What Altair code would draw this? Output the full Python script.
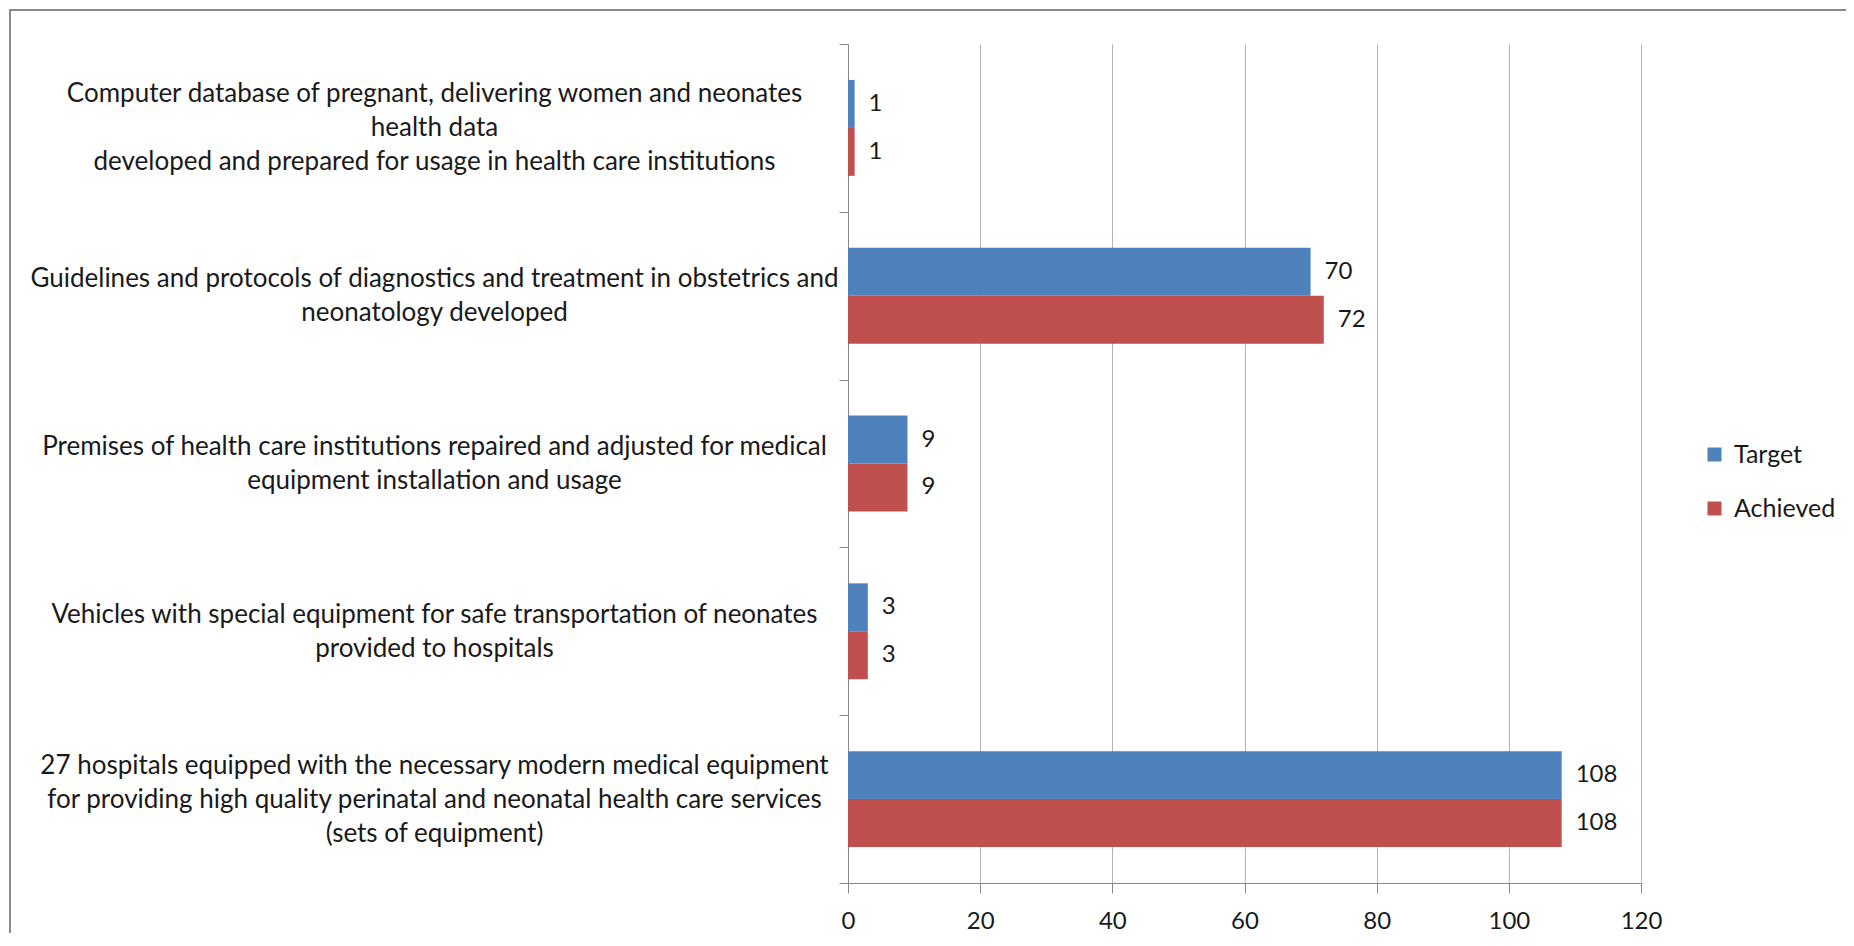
import altair as alt
import pandas as pd

categories = [
    "Computer database of pregnant, delivering women and neonates\nhealth data\ndeveloped and prepared for usage in health care institutions",
    "Guidelines and protocols of diagnostics and treatment in obstetrics and\nneonatology developed",
    "Premises of health care institutions repaired and adjusted for medical\nequipment installation and usage",
    "Vehicles with special equipment for safe transportation of neonates\nprovided to hospitals",
    "27 hospitals equipped with the necessary modern medical equipment\nfor providing high quality perinatal and neonatal health care services\n(sets of equipment)",
]
series = ["Target", "Achieved"]
target = [1, 70, 9, 3, 108]
achieved = [1, 72, 9, 3, 108]
x_ticks = [0, 20, 40, 60, 80, 100, 120]
colors = ["#4F81BD", "#C0504D"]

rows = []
for c, t, a in zip(categories, target, achieved):
    rows.append({"category": c, "series": "Target", "value": t})
    rows.append({"category": c, "series": "Achieved", "value": a})
df = pd.DataFrame(rows)

FONT = "Lato"
FS = 24
CAT_FS = 26
LINE_H = 34
TXT = "#1a1a1a"
AX = "#868686"

y_enc = alt.Y(
    "category:N",
    sort=categories,
    scale=alt.Scale(paddingInner=0, paddingOuter=0),
    axis=alt.Axis(
        title=None,
        tickBand="extent",
        tickSize=9,
        tickColor=AX,
        domainColor=AX,
        grid=False,
        labelAlign="center",
        labelBaseline="middle",
        labelPadding=405,
        labelOffset={
            "condition": {"test": "length(split(datum.value, '\\n')) == 3", "value": -LINE_H},
            "value": -LINE_H / 2,
        },
        labelFont=FONT,
        labelFontSize=CAT_FS,
        labelColor=TXT,
        labelLineHeight=LINE_H,
        labelLimit=2000,
        labelExpr="split(datum.label, '\\n')",
    ),
)
yoff = alt.YOffset("series:N", sort=series, scale=alt.Scale(paddingInner=0, paddingOuter=0.75))
x_enc = alt.X(
    "value:Q",
    scale=alt.Scale(domain=[0, 120], nice=False),
    axis=alt.Axis(
        title=None,
        values=x_ticks,
        tickSize=10,
        tickColor=AX,
        domainColor=AX,
        grid=True,
        gridColor="#b3b3b3",
        labelPadding=16,
        labelFont=FONT,
        labelFontSize=FS,
        labelColor=TXT,
        labelFlush=False,
    ),
)

base = alt.Chart(df)
bars = base.mark_bar().encode(
    x=x_enc,
    y=y_enc,
    yOffset=yoff,
    color=alt.Color(
        "series:N",
        sort=series,
        scale=alt.Scale(domain=series, range=colors),
        legend=alt.Legend(
            title=None,
            orient="none",
            legendX=854,
            legendY=398,
            symbolType="square",
            symbolSize=196,
            symbolStrokeWidth=0,
            labelFont=FONT,
            labelFontSize=25,
            labelColor=TXT,
            labelOffset=7,
            rowPadding=28,
            padding=0,
        ),
    ),
)
labels = base.mark_text(
    align="left", baseline="middle", dx=14, font=FONT, fontSize=FS, color=TXT
).encode(x="value:Q", y=alt.Y("category:N", sort=categories), yOffset=yoff, text="value:Q")

border = alt.Chart(alt.Data(values=[{}])).mark_rect(
    fill="transparent", stroke="#8a8a8a", strokeWidth=2
).encode(
    x=alt.value(-838), y=alt.value(-34), x2=alt.value(1300), y2=alt.value(1200)
)

chart = (
    alt.layer(border, bars, labels)
    .properties(
        width=793,
        height=839,
        padding={"left": 840, "top": 36, "right": 205, "bottom": 50},
        autosize=alt.AutoSizeParams(type="none"),
        background="white",
    )
    .configure_view(strokeWidth=0)
)

chart.save("out.html", embed_options={"renderer": "svg", "actions": False})
